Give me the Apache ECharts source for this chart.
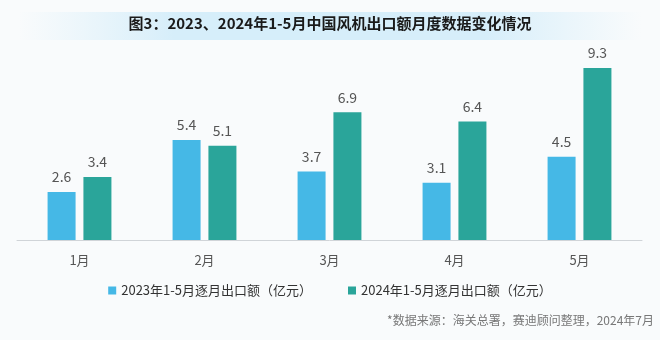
<!DOCTYPE html>
<html>
<head>
<meta charset="utf-8">
<script src="https://cdn.jsdelivr.net/npm/echarts@6/dist/echarts.min.js"></script>
<style>
  html, body { margin: 0; padding: 0; background: #f9fbfc; }
  #chart { width: 660px; height: 340px; }
</style>
</head>
<body>
<div id="chart"></div>
<script>
// Monthly wind turbine export values, Jan–May (亿元)
const months = ['1月', '2月', '3月', '4月', '5月'];
const exports2023 = [2.6, 5.4, 3.7, 3.1, 4.5];
const exports2024 = [3.4, 5.1, 6.9, 6.4, 9.3];
const seriesNames = ['2023年1-5月逐月出口额（亿元）', '2024年1-5月逐月出口额（亿元）'];
const titleText = '图3：2023、2024年1-5月中国风机出口额月度数据变化情况';
const sourceText = '*数据来源：海关总署，赛迪顾问整理，2024年7月';

const FONT = '"Noto Sans CJK SC", "Noto Sans", sans-serif';
const chart = echarts.init(document.getElementById('chart'), null, { renderer: 'canvas' });

const labelStyle = {
  show: true,
  position: 'top',
  distance: 8,
  color: '#555',
  fontSize: 14,
  fontFamily: FONT
};

chart.setOption({
  backgroundColor: '#f9fbfc',
  animation: false,
  graphic: [
    {
      type: 'rect',
      left: 18, top: 12,
      shape: { width: 624, height: 28 },
      style: {
        fill: new echarts.graphic.LinearGradient(0, 0, 1, 0, [
          { offset: 0, color: 'rgba(220,240,250,0)' },
          { offset: 0.25, color: 'rgba(214,238,250,1)' },
          { offset: 0.75, color: 'rgba(214,238,250,1)' },
          { offset: 1, color: 'rgba(220,240,250,0)' }
        ])
      },
      z: 0
    },
    {
      type: 'text',
      left: 'center', top: 16,
      style: {
        text: titleText,
        fill: '#1a1a1a',
        font: 'bold 15px ' + FONT
      },
      z: 10
    },
    {
      type: 'text',
      right: 6, top: 314,
      style: {
        text: sourceText,
        fill: '#777',
        font: '12px ' + FONT
      },
      z: 10
    }
  ],
  legend: {
    bottom: 38,
    left: 'center',
    itemWidth: 8,
    itemHeight: 8,
    itemGap: 36,
    icon: 'rect',
    textStyle: { color: '#333', fontSize: 13, fontFamily: FONT },
    data: seriesNames
  },
  grid: { left: 17, right: 18, top: 55, bottom: 100 },
  xAxis: {
    type: 'category',
    data: months,
    axisLine: { lineStyle: { color: '#d0d4d8' } },
    axisTick: { show: false },
    axisLabel: { color: '#555', fontSize: 13, margin: 14, fontFamily: FONT }
  },
  yAxis: {
    type: 'value',
    min: 0,
    max: 10,
    show: false,
    splitLine: { show: false }
  },
  series: [
    {
      name: seriesNames[0],
      type: 'bar',
      data: exports2023,
      barWidth: 28,
      barGap: '28%',
      itemStyle: { color: '#45b8e6' },
      label: labelStyle
    },
    {
      name: seriesNames[1],
      type: 'bar',
      data: exports2024,
      barWidth: 28,
      itemStyle: { color: '#2aa59a' },
      label: labelStyle
    }
  ]
});
</script>
</body>
</html>
